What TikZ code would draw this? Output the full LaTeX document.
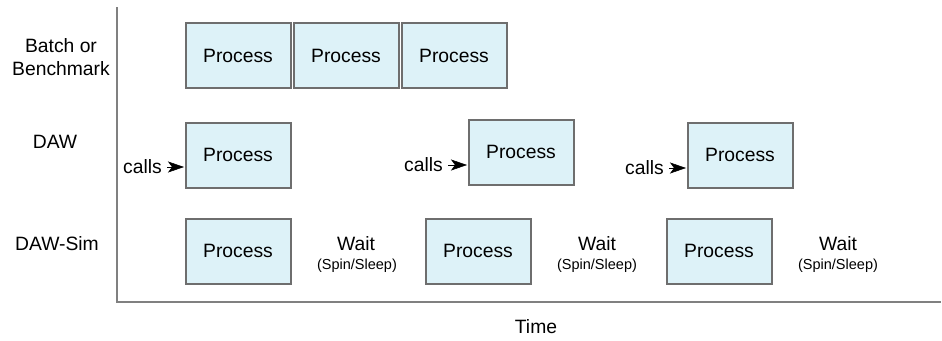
\documentclass[tikz,border=0pt]{standalone}
\usepackage{fontspec}
\setmainfont{Liberation Sans}
\usetikzlibrary{arrows.meta}
\definecolor{boxfill}{HTML}{DDF2F8}
\definecolor{boxline}{HTML}{6E6E6E}
\definecolor{axisline}{HTML}{808080}
\begin{document}
\begin{tikzpicture}[x=1pt,y=-1pt,
  proc/.style={draw=boxline,fill=boxfill,line width=2pt,minimum width=105pt,minimum height=65pt,inner sep=0pt,font=\fontsize{19.3}{23}\selectfont},
  lbl/.style={font=\fontsize{19.3}{23}\selectfont,align=center,inner sep=0pt},
  small/.style={font=\fontsize{14.5}{17}\selectfont,inner sep=0pt},
  callarrow/.style={-{Stealth[length=16pt,width=11pt,inset=4pt]},line width=0.5pt,shorten >=0.5pt}]
\useasboundingbox (0,0) rectangle (942,340);
% axes
\coordinate (top) at (117,7);
\coordinate (origin) at (117,302);
\coordinate (right) at (941,302);
\draw[axisline,line width=2pt] (top) -- (origin) -- (right);
% row labels
\node[lbl] (lb) at (61,57) {Batch or\\Benchmark};
\node[lbl] (ld) at (55,142) {DAW};
\node[lbl] (ls) at (57,244) {DAW-Sim};
\node[lbl] (time) at (536,327) {Time};
% batch row
\node[proc] (b1) at (238,55.5) {Process};
\node[proc] (b2) at (346,55.5) {Process};
\node[proc] (b3) at (454,55.5) {Process};
% DAW row
\node[proc] (d1) at (238,155) {Process};
\node[proc] (d2) at (521,152) {Process};
\node[proc] (d3) at (740,155) {Process};
\node[lbl,anchor=east] (c1) at (162,167) {calls};
\node[lbl,anchor=east] (c2) at (443,165) {calls};
\node[lbl,anchor=east] (c3) at (664,168) {calls};
\draw[callarrow] (c1.east) ++(5pt,0) -- (d1.west |- c1.east);
\draw[callarrow] (c2.east) ++(5pt,0) -- (d2.west |- c2.east);
\draw[callarrow] (c3.east) ++(5pt,0) -- (d3.west |- c3.east);
% DAW-Sim row
\node[proc] (s1) at (238,251) {Process};
\node[proc] (s2) at (478,251) {Process};
\node[proc] (s3) at (719,251) {Process};
\node[lbl] (w1) at (356,244) {Wait};
\node[small] (p1) at (357,266) {(Spin/Sleep)};
\node[lbl] (w2) at (597,244) {Wait};
\node[small] (p2) at (597,266) {(Spin/Sleep)};
\node[lbl] (w3) at (838,244) {Wait};
\node[small] (p3) at (838,266) {(Spin/Sleep)};
\end{tikzpicture}
\end{document}
